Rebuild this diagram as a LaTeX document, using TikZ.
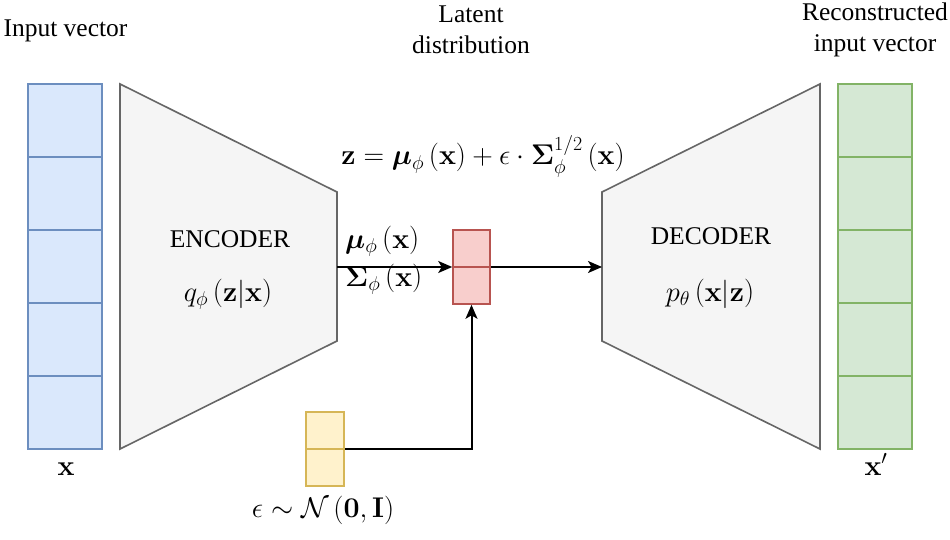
\RequirePackage{fix-cm}
\documentclass[tikz,border=0pt]{standalone}
\usepackage{amsmath}
\usepackage{bm}
\usepackage[no-math]{fontspec}
\setmainfont{Liberation Serif}
\newfontfamily\timesfont{Liberation Serif}
\usetikzlibrary{arrows.meta}
\definecolor{bluefill}{HTML}{DAE8FC}
\definecolor{bluedraw}{HTML}{6C8EBF}
\definecolor{greenfill}{HTML}{D5E8D4}
\definecolor{greendraw}{HTML}{82B366}
\definecolor{redfill}{HTML}{F8CECC}
\definecolor{reddraw}{HTML}{B85450}
\definecolor{yelfill}{HTML}{FFF2CC}
\definecolor{yeldraw}{HTML}{D6B656}
\definecolor{grayfill}{HTML}{F5F5F5}
\definecolor{graydraw}{HTML}{666666}
\tikzset{
  txt/.style={font=\timesfont\fontsize{25.5}{30.6}\selectfont, inner sep=0pt, align=center},
  mth/.style={font=\fontsize{28.5}{34}\selectfont, inner sep=0pt},
  incell/.style={draw=bluedraw, fill=bluefill, line width=1.6pt, minimum width=74pt, minimum height=73pt, inner sep=0pt},
  outcell/.style={draw=greendraw, fill=greenfill, line width=1.6pt, minimum width=74pt, minimum height=73pt, inner sep=0pt},
  latbox/.style={draw=reddraw, fill=redfill, line width=1.6pt, minimum width=37pt, minimum height=74pt, inner sep=0pt},
  epsbox/.style={draw=yeldraw, fill=yelfill, line width=1.6pt, minimum width=38pt, minimum height=74pt, inner sep=0pt},
  trap/.style={draw=graydraw, fill=grayfill, line width=1.6pt, line join=miter},
  arr/.style={line width=2pt, -{Stealth[length=14pt,width=12pt,inset=3.5pt]}}
}
\begin{document}
\begin{tikzpicture}[x=1pt,y=-1pt]
\useasboundingbox (0,0) rectangle (950,540);
% input and output columns
\foreach \i in {0,...,4} {
  \node[incell] (in\i) at (65,{120.5+73*\i}) {};
  \node[outcell] (out\i) at (875,{120.5+73*\i}) {};
}
% encoder / decoder
\draw[trap] (120,84) coordinate (encTL) -- (337,192) coordinate (encTR) -- (337,341) coordinate (encBR) -- (120,449) coordinate (encBL) -- cycle;
\draw[trap] (602,192) coordinate (decTL) -- (820,84) coordinate (decTR) -- (820,449) coordinate (decBR) -- (602,341) coordinate (decBL) -- cycle;
\coordinate (encR) at (337,267);
\coordinate (decL) at (602,267);
% latent and epsilon boxes
\node[latbox] (lat) at (471.5,267) {};
\draw[draw=reddraw, line width=1.6pt] (lat.west) -- (lat.east);
\node[epsbox] (eps) at (325,449) {};
\draw[draw=yeldraw, line width=1.6pt] (eps.west) -- (eps.east);
% connectors
\draw[arr] (encR) -- (lat.west);
\draw[arr] (lat.east) -- (decL);
\draw[arr] (eps.east) -| (lat.south);
% texts
\node[txt] (tin) at (65.5,31) {Input vector};
\node[txt] (tlat) at (471,30) {Latent\\distribution};
\node[txt] (trec) at (875,30) {Reconstructed\\input vector};
\node[txt, anchor=base] (tenc) at (230,247) {ENCODER};
\node[txt, anchor=base] (tdec) at (711,244) {DECODER};
\node[mth, anchor=base] (qenc) at (228,301) {$q_\phi\left(\mathbf{z}|\mathbf{x}\right)$};
\node[mth, anchor=base] (pdec) at (710,301) {$p_\theta\left(\mathbf{x}|\mathbf{z}\right)$};
\node[mth, anchor=base] (eq) at (483,165) {$\mathbf{z}=\boldsymbol{\mu}_\phi\left(\mathbf{x}\right)+\epsilon\cdot\boldsymbol{\Sigma}_\phi^{1/2}\left(\mathbf{x}\right)$};
\node[mth, anchor=base west] (mulab) at (345,248) {$\boldsymbol{\mu}_\phi\left(\mathbf{x}\right)$};
\node[mth, anchor=base west] (siglab) at (345,286) {$\boldsymbol{\Sigma}_\phi\left(\mathbf{x}\right)$};
\node[mth, anchor=base] (xlab) at (66,475) {$\mathbf{x}$};
\node[mth, anchor=base] (xplab) at (876,475) {$\mathbf{x}'$};
\node[mth, anchor=base] (epslab) at (323,517) {$\epsilon\sim\mathcal{N}\left(\mathbf{0},\mathbf{I}\right)$};
\end{tikzpicture}
\end{document}
